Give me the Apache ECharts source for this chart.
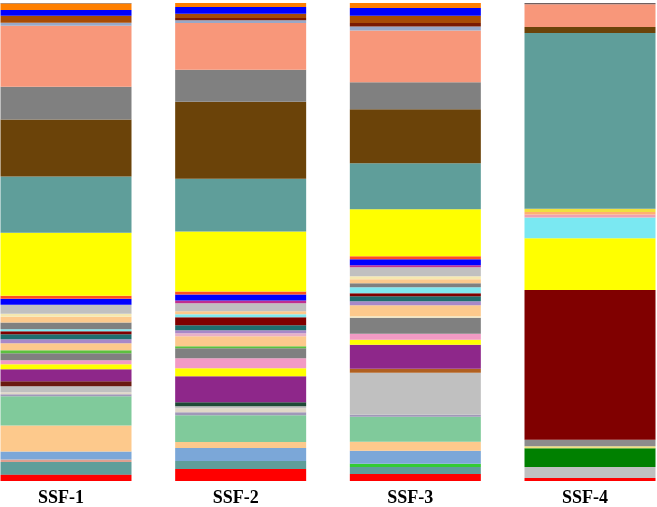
<!DOCTYPE html>
<html>
<head>
<meta charset="utf-8">
<script src="https://cdn.jsdelivr.net/npm/echarts@6/dist/echarts.min.js"></script>
<style>html,body{margin:0;padding:0;background:#fff}#c{width:657px;height:507px}</style>
</head>
<body>
<div id="c"></div>
<script>
// Samples
var categories = ['SSF-1', 'SSF-2', 'SSF-3', 'SSF-4'];

// Taxa in stacking order (bottom -> top)
var taxa = [
 't01','t02','t03','t04','t05','t06','t07','t08','t09','t10',
 't11','t12','t13','t14','t15','t16','t17','t18','t19','t20',
 't21','t22','t23','t24','t25','t26','t27','t28','t29','t30',
 't31','t32','t33','t34','t35','t36','t37','t38','t39','t40',
 't41','t42','t43','t44','t45','t46','t47','t48','t49','t50',
 't51','t52'
];

// Abundances (per sample, same order as taxa)
var ssf1 = [6,0,0,0,1,12,0,2.5,8,26, 29,2,2,6,5,0,0,12,5,4, 7,3,0,7,0,4,5,3,2,6.6, 5.7,3,9,0,6,3,0,63,0,0, 0,0,56,57,32.6,61,3,0,7,5.5, 6.6,0.5];
var ssf2 = [12,0,0,0,0,8,0,0,13,6, 27,3,4,2,0,4,0,26,8,10, 10,2,0,10,3,3,5,8,3,0, 3,0,8,3,6,3,0,60,0,0, 0,0,53,77,32,47,2.6,2.4,4.3,6.7, 4,0];
var ssf3 = [7,0,0,0,0,7,3.3,0,13,9, 25,2,0,42,0,0,4,24,5,6, 16,0,1.6,11,0,4,5,3,6,4, 4,3,9,2,6,3,0,47,0,0, 0,0,46,54,27,52,4,3.4,7.3,7.7, 5,0];
var ssf4 = [3,11,19,2,6.5,0,0,0,0,0, 0,0,0,0,0,0,0,0,0,0, 0,0,0,0,0,0,0,0,0,0, 0,0,0,0,0,0,151,52,21,3, 2.5,3.3,177,6,0,23,0,0,0,0, 0,1.3];

var colors = [
 '#ff0000','#c0c0c0','#008000','#f0e080','#8c8c8c','#5f9e9a','#33cc33','#e0a090','#7ba7d8','#fdc98c',
 '#80ca9b','#a098b8','#e0d8c8','#c0c0c0','#6a1a10','#1e4a36','#b06020','#8e278a','#ffff00','#f29ac4',
 '#808080','#5cc040','#f0e6c0','#fdc98c','#e8b0c8','#a888c8','#1f6e6e','#800000','#80e8f0','#808080',
 '#fdc98c','#f5e8b0','#c0c0c0','#c03090','#0000ff','#ff5020','#800000','#ffff00','#7ae8f2','#f0a0b0',
 '#ffb070','#f0e040','#5f9e9a','#6b4309','#808080','#f8977a','#98a8c8','#7a1a00','#a84b04','#0000ff',
 '#ff7f00','#706060'
];

function norm(a){var s=a.reduce(function(x,y){return x+y;},0);return a.map(function(v){return v/s*100;});}
var samples = [norm(ssf1), norm(ssf2), norm(ssf3), norm(ssf4)];

var series = taxa.map(function(n, i){
  return {
    type: 'bar', name: n, stack: 'all', barWidth: 131, clip: false,
    itemStyle: {color: colors[i]},
    data: samples.map(function(s){return s[i];})
  };
});

var chart = echarts.init(document.getElementById('c'), null, {renderer: 'canvas'});
chart.setOption({
  animation: false,
  backgroundColor: '#fff',
  grid: {left: 66, right: 67, top: 3, bottom: 24},
  xAxis: {
    type: 'category', data: categories, boundaryGap: false,
    axisLine: {show: false}, axisTick: {show: false},
    axisLabel: {margin: 8, fontFamily: 'Liberation Serif', fontWeight: 'bold', fontSize: 18, color: '#000', padding: [0, 10, 0, 0]}
  },
  yAxis: {type: 'value', min: 0, max: 100, show: false, splitLine: {show: false}},
  series: series
});
</script>
</body>
</html>
